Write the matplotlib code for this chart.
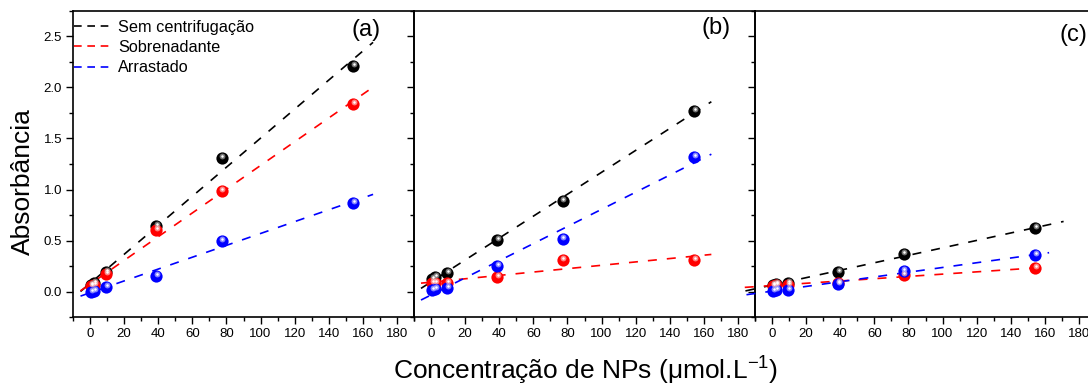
import numpy as np
import matplotlib
matplotlib.use("Agg")
import matplotlib.pyplot as plt
from matplotlib.ticker import MultipleLocator
from matplotlib.transforms import offset_copy
from matplotlib.lines import Line2D

plt.rcParams['font.family'] = ['Liberation Sans', 'DejaVu Sans']
plt.rcParams['mathtext.fontset'] = 'custom'
plt.rcParams['mathtext.rm'] = 'Liberation Sans'
plt.rcParams['mathtext.it'] = 'Liberation Sans:italic'

# Nanoparticle concentrations (umol/L)
conc = [0.6, 2.4, 9.6, 38.6, 77.2, 154.4]

series_names = ["Sem centrifugação", "Sobrenadante", "Arrastado"]
series_colors = ["#000000", "#ff0000", "#0000ff"]
series_lights = ["#9a9a9a", "#ffb0b0", "#b0b0ff"]

# Absorbance, panel (a)
sem_a = [0.07, 0.09, 0.19, 0.64, 1.31, 2.21]
sob_a = [0.06, 0.07, 0.17, 0.60, 0.99, 1.84]
arr_a = [0.00, 0.01, 0.05, 0.15, 0.50, 0.87]
# Absorbance, panel (b)
sem_b = [0.12, 0.14, 0.18, 0.51, 0.89, 1.77]
sob_b = [0.09, 0.09, 0.09, 0.14, 0.31, 0.31]
arr_b = [0.02, 0.03, 0.04, 0.25, 0.52, 1.32]
# Absorbance, panel (c)
sem_c = [0.07, 0.08, 0.09, 0.19, 0.37, 0.62]
sob_c = [0.06, 0.07, 0.07, 0.09, 0.16, 0.23]
arr_c = [0.01, 0.02, 0.02, 0.08, 0.20, 0.36]

panel_labels = ["(a)", "(b)", "(c)"]
panel_data = [[sem_a, sob_a, arr_a], [sem_b, sob_b, arr_b], [sem_c, sob_c, arr_c]]

# x-range over which each linear fit is drawn (per panel, per series)
fit_ranges = [
    [(-5.6, 166), (-5.6, 166), (-5.6, 166)],
    [(-5.9, 164.4), (-5.9, 164.4), (-5.9, 164.4)],
    [(-15.6, 171), (-16, 159.6), (-15, 162.5)],
]

W, H = 1088, 387
fig = plt.figure(figsize=(W / 100, H / 100), dpi=100)

ax_left_px = [73, 414, 755]
ax_w_px = 341
ax_top_px = 10.7
ax_bot_px = 317.3

label_pos = [(0.859, 0.937), (0.886, 0.944), (0.935, 0.921)]

LW = 1.2
line_dashes = (5.4, 6.0)
legend_dashes = (4.6, 3.4)


def draw_balls(ax, x, y, color, light):
    ax.plot(x, y, 'o', ms=8.8, color=color, mew=0, zorder=5, clip_on=False)
    tr = offset_copy(ax.transData, fig=fig, x=0.8, y=2.0, units='dots')
    ax.plot(x, y, 'o', ms=4.2, color=light, mew=0, alpha=0.75, zorder=6,
            transform=tr, clip_on=False)
    ax.plot(x, y, 'o', ms=1.8, color='white', mew=0, zorder=7,
            transform=tr, clip_on=False)


axes = []
for i in range(3):
    rect = [ax_left_px[i] / W, 1 - ax_bot_px / H, ax_w_px / W,
            (ax_bot_px - ax_top_px) / H]
    ax = fig.add_axes(rect)
    axes.append(ax)
    ax.set_xlim(-10, 190)
    ax.set_ylim(-0.25, 2.75)
    ax.xaxis.set_major_locator(MultipleLocator(20))
    ax.xaxis.set_minor_locator(MultipleLocator(10))
    ax.yaxis.set_major_locator(MultipleLocator(0.5))
    ax.yaxis.set_minor_locator(MultipleLocator(0.25))
    ax.tick_params(which='major', direction='out', length=4.8, width=1.0,
                   labelsize=9.5, pad=3)
    ax.tick_params(which='minor', direction='out', length=2.6, width=1.0)
    ax.tick_params(top=False, right=False)
    for sp in ax.spines.values():
        sp.set_linewidth(1.2)
    if i > 0:
        ax.tick_params(axis='y', labelleft=False)
    ax.set_facecolor('none')

    xs = np.array(conc)
    for j, ys in enumerate(panel_data[i]):
        k, b = np.polyfit(xs, np.array(ys), 1)
        x0, x1 = fit_ranges[i][j]
        xf = np.array([x0, x1])
        ax.plot(xf, k * xf + b, color=series_colors[j], lw=LW,
                dashes=line_dashes, zorder=3, clip_on=(i < 2))
    for j, ys in enumerate(panel_data[i]):
        draw_balls(ax, conc, ys, series_colors[j], series_lights[j])

    ax.text(label_pos[i][0], label_pos[i][1], panel_labels[i],
            transform=ax.transAxes, ha='center', va='center', fontsize=17)

# Later panels sit above earlier ones so their outward ticks remain visible
for z, ax in enumerate(axes):
    ax.set_zorder(z)

handles = [Line2D([], [], color=c, lw=LW, dashes=legend_dashes)
           for c in series_colors]
axes[0].legend(handles, series_names, loc='upper left',
               bbox_to_anchor=(0.003, 0.970), frameon=False,
               fontsize=11.7, handlelength=2.46, handletextpad=0.26,
               labelspacing=0.32, borderpad=0, borderaxespad=0)

fig.text(23 / W, 0.530, "Absorbância", rotation=90, ha='center',
         va='center', fontsize=19)
fig.text(586 / W, 0.042, "Concentração de NPs (μmol.L$^{-1}$)",
         ha='center', va='center', fontsize=19)

fig.savefig("out.png", dpi=100)
